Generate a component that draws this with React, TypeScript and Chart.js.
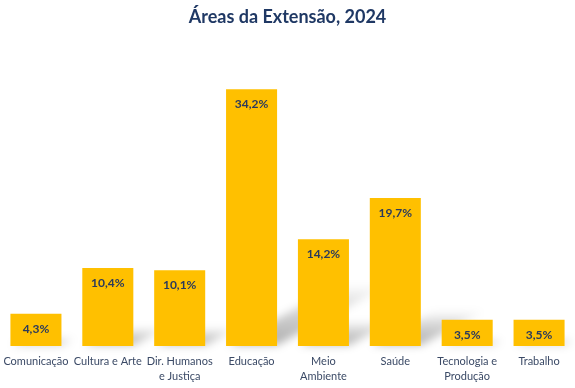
import React, { useEffect, useRef } from "react";
import { Chart, registerables } from "chart.js";

Chart.register(...registerables);

const categories: string[][] = [
  ["Comunicação"],
  ["Cultura e Arte"],
  ["Dir. Humanos", "e Justiça"],
  ["Educação"],
  ["Meio", "Ambiente"],
  ["Saúde"],
  ["Tecnologia e", "Produção"],
  ["Trabalho"],
];
const values: number[] = [4.3, 10.4, 10.1, 34.2, 14.2, 19.7, 3.5, 3.5];
const title = "Áreas da Extensão, 2024";

const FONT = "Lato, 'Open Sans', sans-serif";

const shadowPlugin = {
  id: "barShadow",
  beforeDatasetsDraw(chart: any) {
    const ctx = chart.ctx;
    const meta = chart.getDatasetMeta(0);
    ctx.save();
    ctx.filter = "blur(4px)";
    meta.data.forEach((bar: any) => {
      const p = bar.getProps(["x", "y", "base", "width"], true);
      const h = p.base - p.y;
      const dx = h * 0.44;
      const dy = h * 0.24;
      const xl = p.x - p.width / 2;
      const xr = p.x + p.width / 2;
      const g = ctx.createLinearGradient(0, p.base, 0, p.base - dy);
      g.addColorStop(0, "rgba(0,0,0,0.32)");
      g.addColorStop(0.6, "rgba(0,0,0,0.16)");
      g.addColorStop(1, "rgba(0,0,0,0.0)");
      ctx.fillStyle = g;
      ctx.beginPath();
      ctx.moveTo(xl + 2, p.base - 1);
      ctx.lineTo(xr, p.base - 1);
      ctx.lineTo(xr + dx, p.base - dy);
      ctx.lineTo(xl + 2 + dx, p.base - dy);
      ctx.closePath();
      ctx.fill();
    });
    ctx.restore();
  },
};

const labelPlugin = {
  id: "barLabels",
  afterDatasetsDraw(chart: any) {
    const ctx = chart.ctx;
    const meta = chart.getDatasetMeta(0);
    ctx.save();
    ctx.font = `bold 12px ${FONT}`;
    ctx.fillStyle = "#2B3A5C";
    ctx.textAlign = "center";
    ctx.textBaseline = "middle";
    meta.data.forEach((bar: any, i: number) => {
      const p = bar.getProps(["x", "y"], true);
      const txt = values[i].toFixed(1).replace(".", ",") + "%";
      ctx.fillText(txt, p.x, p.y + 15);
    });
    ctx.restore();
  },
};

export default function App() {
  const ref = useRef<HTMLCanvasElement | null>(null);
  useEffect(() => {
    if (!ref.current) return;
    const chart = new Chart(ref.current, {
      type: "bar",
      data: {
        labels: categories,
        datasets: [
          {
            data: values,
            backgroundColor: "#FFC000",
            borderWidth: 0,
            categoryPercentage: 1,
            barPercentage: 0.71,
          },
        ],
      },
      options: {
        animation: false,
        responsive: false,
        maintainAspectRatio: false,
        layout: { padding: { left: 0, right: 0, top: 0, bottom: 0 } },
        plugins: {
          legend: { display: false },
          tooltip: { enabled: false },
          title: {
            display: true,
            text: title,
            color: "#1F3864",
            font: { family: FONT, size: 18, weight: "bold" },
            padding: { top: 6, bottom: 18 },
          },
        },
        scales: {
          x: {
            grid: { display: false, drawTicks: false },
            border: { display: false },
            afterFit(scale: any) {
              scale.paddingLeft = 0;
              scale.paddingRight = 0;
              scale.height = 42;
            },
            ticks: {
              color: "#3B4A66",
              font: { family: FONT, size: 11, lineHeight: 1.36 },
              maxRotation: 0,
              minRotation: 0,
              autoSkip: false,
              padding: 8,
            },
          },
          y: {
            display: false,
            min: 0,
            max: 40,
          },
        },
      },
      plugins: [shadowPlugin, labelPlugin],
    });
    return () => chart.destroy();
  }, []);
  return (
    <div style={{ position: "fixed", left: 0, top: 0, width: 575, height: 388, background: "#fff" }}>
      <canvas ref={ref} width={575} height={388} />
    </div>
  );
}
